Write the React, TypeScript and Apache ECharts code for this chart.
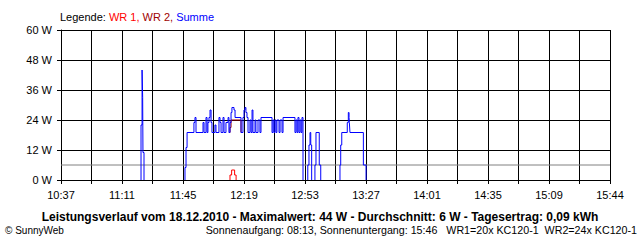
import React, { useEffect, useRef } from 'react';
import * as echarts from 'echarts';

// ---- axis definition ----
const axisStart = '10:37';
const axisEnd = '15:44';
const gridSteps = 18; // vertical grid lines (labels every second one)
const xTickLabels = ['10:37', '11:11', '11:45', '12:19', '12:53', '13:27', '14:01', '14:35', '15:09', '15:44'];
const yMax = 60;
const yStep = 12;
const avgWatts = 6;

// ---- Summe (blue) : change points, value holds until next time; null = gap ----
const summeTimes = [
  '11:21:45', '11:21:45', '11:22:20', '11:22:40', '11:22:50', '11:23:25', '11:23:25',
  '11:46:20', '11:46:20', '11:46:55', '11:47:30', '11:51:20', '11:51:55', '11:52:30', '11:56:25',
  '11:57:00', '11:58:05', '11:58:40', '11:59:10', '11:59:45', '12:00:20', '12:00:55', '12:01:25',
  '12:03:05', '12:03:40', '12:05:20', '12:05:55', '12:06:30', '12:07:35', '12:08:10', '12:09:15',
  '12:10:25', '12:10:55', '12:11:30', '12:12:05', '12:12:35', '12:13:45', '12:14:20', '12:17:40',
  '12:18:45', '12:19:20', '12:19:55', '12:20:25', '12:21:00', '12:21:35', '12:22:40', '12:23:15',
  '12:23:50', '12:24:20', '12:25:30', '12:26:00', '12:27:10', '12:28:15', '12:28:50', '12:35:00',
  '12:35:35', '12:36:05', '12:36:40', '12:37:15', '12:37:45', '12:38:55', '12:39:30', '12:40:35',
  '12:41:10', '12:47:50', '12:48:25', '12:49:00', '12:49:30', '12:50:05', '12:50:40', '12:51:15',
  '12:51:45', '12:52:20', '12:52:20',
  '12:55:00', '12:55:00', '12:55:40', '12:56:15', '12:56:40', '12:57:10', '12:57:10',
  '12:59:00', '12:59:00', '12:59:35', '13:01:25', '13:02:15', '13:02:15',
  '13:13:00', '13:13:00', '13:13:25', '13:14:00', '13:17:05', '13:17:40', '13:18:05', '13:18:15',
  '13:18:35', '13:26:05', '13:27:35',
];
const summeWatts = [
  0, 22, 44, 33, 11, 0, null,
  0, 5, 13, 19, 23, 25, 19, 23,
  19, 25, 19, 23, 25, 28, 23, 19,
  22, 19, 25, 23, 19, 25, 19, 23,
  25, 19, 23, 27, 29, 28, 25, 19,
  25, 28, 29, 27, 25, 19, 24, 19,
  28, 19, 24, 19, 24, 19, 25, 19,
  24, 19, 24, 19, 24, 19, 24, 19,
  25, 19, 24, 19, 25, 19, 24, 19,
  25, 0, null,
  0, 6, 14, 19, 14, 0, null,
  0, 6, 19, 6, 0, null,
  0, 6, 14, 19, 23, 27, 25, 23,
  19, 6, 0,
];

// ---- WR 1 (red) ----
const wr1Times = ['12:11:30', '12:11:30', '12:12:25', '12:14:05', '12:14:55'];
const wr1Watts = [0, 2, 4, 2, 0];

// ---- WR 2 (dark red, visible only where it differs from Summe) ----
const wr2Times = ['12:10:55', '12:11:30', '12:12:05', '12:17:40', '12:18:45'];
const wr2Watts = [19, 21, 24, 19, 19];

// ---- texts ----
const titleText = 'Leistungsverlauf vom 18.12.2010 - Maximalwert: 44 W - Durchschnitt: 6 W - Tagesertrag: 0,09 kWh';
const footerLeft = '\u00A9 SunnyWeb';
const footerRight = 'Sonnenaufgang: 08:13, Sonnenuntergang: 15:46   WR1=20x KC120-1  WR2=24x KC120-1';

const FONT = '"Liberation Sans", Arial, sans-serif';

function toMin(t: string): number {
  const p = t.split(':').map(Number);
  return p[0] * 60 + p[1] + (p[2] || 0) / 60;
}
const spanMin = toMin(axisEnd) - toMin(axisStart);
const toX = (t: string) => ((toMin(t) - toMin(axisStart)) / spanMin) * gridSteps;
const pairs = (times: string[], watts: (number | null)[]) => times.map((t, i) => [toX(t), watts[i]]);

export default function App() {
  const ref = useRef<HTMLDivElement>(null);
  useEffect(() => {
    if (!ref.current) return;
    const chart = echarts.init(ref.current, undefined, { renderer: 'svg' });
    const lineSeries = (name: string, data: any[], color: string, z: number) => ({
      name,
      type: 'line',
      step: 'end',
      data,
      showSymbol: false,
      symbol: 'none',
      connectNulls: false,
      lineStyle: { width: 1, color },
      itemStyle: { color },
      z,
      silent: true,
    });
    chart.setOption({
      animation: false,
      backgroundColor: '#ffffff',
      textStyle: { fontFamily: FONT },
      grid: { left: 61, top: 30, right: 30, bottom: 60, containLabel: false },
      xAxis: {
        type: 'value',
        min: 0,
        max: gridSteps,
        interval: 1,
        axisLine: { show: true, lineStyle: { color: '#000', width: 1 } },
        axisTick: { show: true, inside: false, length: 4, lineStyle: { color: '#000' } },
        splitLine: { show: true, lineStyle: { color: '#000', width: 1 } },
        axisLabel: {
          color: '#000',
          fontSize: 11,
          fontFamily: FONT,
          margin: 9,
          formatter: (v: number) => {
            const k = Math.round(v);
            return k % 2 === 0 ? xTickLabels[k / 2] ?? '' : '';
          },
        },
      },
      yAxis: {
        type: 'value',
        min: 0,
        max: yMax,
        interval: yStep,
        axisLine: { show: true, lineStyle: { color: '#000', width: 1 } },
        axisTick: { show: true, inside: false, length: 4, lineStyle: { color: '#000' } },
        splitLine: { show: true, lineStyle: { color: '#000', width: 1 } },
        axisLabel: { color: '#000', fontSize: 11, fontFamily: FONT, margin: 9, formatter: '{value} W' },
      },
      series: [
        lineSeries('Durchschnitt', [[toX(axisStart), avgWatts], [toX(axisEnd), avgWatts]], '#808080', 1),
        lineSeries('WR 2', pairs(wr2Times, wr2Watts), '#a00000', 2),
        lineSeries('WR 1', pairs(wr1Times, wr1Watts), '#ff0000', 3),
        lineSeries('Summe', pairs(summeTimes, summeWatts), '#0000ff', 4),
      ],
      graphic: [
        {
          type: 'text',
          left: 60,
          top: 11,
          style: {
            text: '{k|Legende: }{a|WR 1,}{b| WR 2,}{c| Summe}',
            rich: {
              k: { fill: '#000', fontSize: 11, fontFamily: FONT },
              a: { fill: '#ff0000', fontSize: 11, fontFamily: FONT },
              b: { fill: '#a00000', fontSize: 11, fontFamily: FONT },
              c: { fill: '#0000ff', fontSize: 11, fontFamily: FONT },
            },
          },
        },
        {
          type: 'text',
          x: 320,
          y: 217,
          style: {
            text: titleText,
            fill: '#000',
            fontSize: 12,
            fontWeight: 'bold',
            fontFamily: FONT,
            align: 'center',
            verticalAlign: 'middle',
          },
        },
        {
          type: 'text',
          x: 5,
          y: 230,
          style: { text: footerLeft, fill: '#000', fontSize: 10, fontFamily: FONT, align: 'left', verticalAlign: 'middle' },
        },
        {
          type: 'text',
          x: 637,
          y: 230,
          style: { text: footerRight, fill: '#000', fontSize: 10.7, fontFamily: FONT, align: 'right', verticalAlign: 'middle' },
        },
      ],
    });
    return () => chart.dispose();
  }, []);
  return (
    <div
      ref={ref}
      style={{ position: 'absolute', left: 0, top: 0, width: 640, height: 240, background: '#fff' }}
    />
  );
}
